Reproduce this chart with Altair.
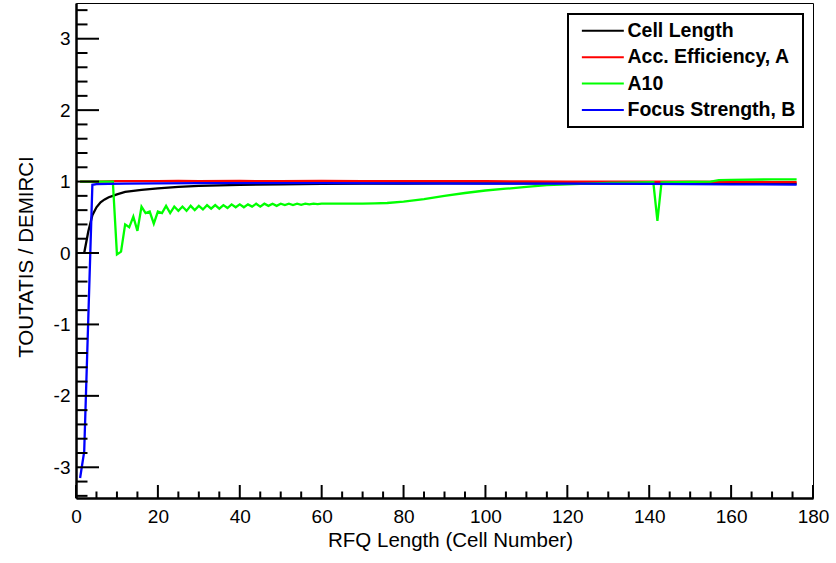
import altair as alt
import pandas as pd

FONT = "Liberation Sans"

series_names = ["Cell Length", "Acc. Efficiency, A", "A10", "Focus Strength, B"]
series_colors = ["#000000", "#ff0000", "#00ff00", "#0000ff"]

# Cell Length (black)
cell_length_x = [2, 3, 4, 5, 6, 7, 8, 9, 10, 12, 14, 16, 18, 20, 25, 30, 35, 40, 50,
                 60, 70, 80, 90, 100, 120, 140, 160, 176]
cell_length_y = [0.0, 0.30, 0.53, 0.64, 0.71, 0.75, 0.78, 0.80, 0.82, 0.855, 0.87, 0.885,
                 0.895, 0.905, 0.925, 0.94, 0.948, 0.955, 0.962, 0.967, 0.970, 0.973,
                 0.975, 0.976, 0.976, 0.975, 0.972, 0.970]

# Acc. Efficiency, A (red)
acc_eff_x = [1, 5, 10, 15, 20, 25, 30, 40, 50, 60, 70, 80, 90, 100, 110, 120, 130, 140,
             150, 160, 170, 176]
acc_eff_y = [1.0, 1.0, 1.005, 1.005, 1.005, 1.008, 1.005, 1.008, 1.005, 1.008, 1.005,
             1.005, 1.005, 1.005, 1.003, 1.0, 1.0, 1.0, 0.998, 0.995, 0.993, 0.993]

# A10 (green)
a10_x = [1, 9, 10, 11, 12, 13, 14, 15, 16, 17, 18, 19, 20, 21, 22, 23, 24, 25, 26, 27,
         28, 29, 30, 31, 32, 33, 34, 35, 36, 37, 38, 39, 40, 41, 42, 43, 44, 45, 46, 47,
         48, 49, 50, 51, 52, 53, 54, 55, 56, 57, 58, 59, 60, 65, 70, 73, 76, 80, 85, 90,
         95, 100, 105, 110, 115, 120, 125, 130, 135, 141, 142, 143, 150, 155, 157, 160,
         170, 176]
a10_y = [1.0, 1.0, -0.02, 0.02, 0.40, 0.36, 0.51, 0.31, 0.65, 0.56, 0.58, 0.41, 0.58,
         0.56, 0.66, 0.56, 0.65, 0.59, 0.65, 0.59, 0.66, 0.60, 0.66, 0.61, 0.67, 0.62,
         0.67, 0.62, 0.67, 0.63, 0.68, 0.64, 0.68, 0.64, 0.68, 0.65, 0.69, 0.65, 0.69,
         0.66, 0.69, 0.66, 0.69, 0.67, 0.69, 0.67, 0.69, 0.675, 0.69, 0.68, 0.69, 0.685,
         0.69, 0.69, 0.69, 0.695, 0.70, 0.72, 0.755, 0.80, 0.84, 0.875, 0.90, 0.925, 0.95,
         0.962, 0.972, 0.98, 0.985, 0.99, 0.45, 0.99, 0.995, 1.0, 1.02, 1.025, 1.03, 1.03]

# Focus Strength, B (blue)
focus_x = [1, 2, 3, 4, 5, 8, 12, 20, 30, 40, 60, 80, 100, 120, 140, 160, 176]
focus_y = [-3.15, -2.78, -0.92, 0.955, 0.965, 0.968, 0.97, 0.975, 0.978, 0.978, 0.978,
           0.975, 0.972, 0.97, 0.968, 0.962, 0.958]

# Axis ticks
x_major = [0, 20, 40, 60, 80, 100, 120, 140, 160, 180]
x_minor = [5, 10, 15, 25, 30, 35, 45, 50, 55, 65, 70, 75, 85, 90, 95, 105, 110, 115,
           125, 130, 135, 145, 150, 155, 165, 170, 175]
y_major = [-3, -2, -1, 0, 1, 2, 3]
y_minor = [-3.4, -3.2, -2.8, -2.6, -2.4, -2.2, -1.8, -1.6, -1.4, -1.2, -0.8, -0.6, -0.4,
           -0.2, 0.2, 0.4, 0.6, 0.8, 1.2, 1.4, 1.6, 1.8, 2.2, 2.4, 2.6, 2.8, 3.2, 3.4]

W, H = 737, 495

xscale = alt.Scale(domain=[0, 180], nice=False, zero=False)
yscale = alt.Scale(domain=[-3.43, 3.5], nice=False, zero=False)
cscale = alt.Scale(domain=series_names, range=series_colors)


def series_df(name, xs, ys):
    return pd.DataFrame({"cell": xs, "value": ys, "series": name})


legend = alt.Legend(
    title=None, orient="none", legendX=492, legendY=11,
    symbolType="M-0.55,0H7.45", symbolSize=110, symbolStrokeWidth=2,
    labelFont=FONT, labelFontSize=19.5, labelFontWeight="bold", labelColor="black",
    labelOffset=33, labelLimit=400, rowPadding=5.4, padding=7,
    strokeColor="black", fillColor="white", cornerRadius=0,
)

x_axis = alt.Axis(values=x_major, ticks=False, grid=False, labelFlush=False,
                  labelOverlap=False, labelFont=FONT, labelFontSize=19, labelColor="black",
                  labelPadding=9, labelExpr="'' + datum.value",
                  title="RFQ Length (Cell Number)", titleFont=FONT,
                  titleFontSize=20.5, titleFontWeight="normal", titleColor="black",
                  titlePadding=4, titleX=374, domainColor="black", domainWidth=2.5)
y_axis = alt.Axis(values=y_major, ticks=False, grid=False, labelFlush=False,
                  labelOverlap=False, labelFont=FONT, labelFontSize=19, labelColor="black",
                  labelPadding=6, labelExpr="'' + datum.value",
                  title="TOUTATIS / DEMIRCI", titleFont=FONT,
                  titleFontSize=20.5, titleFontWeight="normal", titleColor="black",
                  titlePadding=17, titleY=253.5, domainColor="black", domainWidth=2.5)


def line_layer(df, with_legend=False):
    return alt.Chart(df).mark_line(strokeWidth=2.3, clip=True).encode(
        x=alt.X("cell:Q", scale=xscale, axis=x_axis),
        y=alt.Y("value:Q", scale=yscale, axis=y_axis),
        color=alt.Color("series:N", scale=cscale, legend=legend if with_legend else None),
        order=alt.Order("cell:Q"),
    )


black = line_layer(series_df(series_names[0], cell_length_x, cell_length_y), True)
red = line_layer(series_df(series_names[1], acc_eff_x, acc_eff_y))
green = line_layer(series_df(series_names[2], a10_x, a10_y))
blue = line_layer(series_df(series_names[3], focus_x, focus_y))

xmaj = alt.Chart(pd.DataFrame({"cell": x_major})).mark_rule(color="black", strokeWidth=2).encode(
    x=alt.X("cell:Q", scale=xscale, axis=x_axis), y=alt.value(H), y2=alt.value(H - 13))
xmin = alt.Chart(pd.DataFrame({"cell": x_minor})).mark_rule(color="black", strokeWidth=2).encode(
    x=alt.X("cell:Q", scale=xscale, axis=x_axis), y=alt.value(H), y2=alt.value(H - 6.5))
ymaj = alt.Chart(pd.DataFrame({"value": y_major})).mark_rule(color="black", strokeWidth=2).encode(
    y=alt.Y("value:Q", scale=yscale, axis=y_axis), x=alt.value(0), x2=alt.value(23))
ymin = alt.Chart(pd.DataFrame({"value": y_minor})).mark_rule(color="black", strokeWidth=2).encode(
    y=alt.Y("value:Q", scale=yscale, axis=y_axis), x=alt.value(0), x2=alt.value(11.5))

chart = alt.layer(black, red, green, blue, ymin, ymaj, xmin, xmaj).properties(
    width=W, height=H,
    autosize=alt.AutoSizeParams(type="none"),
    padding={"left": 76, "top": 3, "right": 23, "bottom": 65},
    background="white",
).configure_view(stroke="black", strokeWidth=1).configure_legend(strokeWidth=2)

chart.save("out.html", embed_options={"renderer": "svg", "actions": False})
